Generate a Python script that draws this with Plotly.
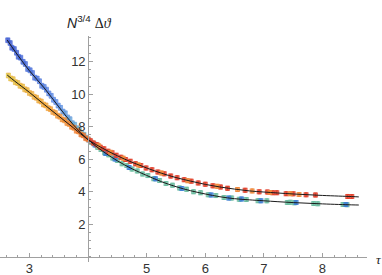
import plotly.graph_objects as go

# ---------------- data ----------------
# fit curves
fit_tau = [2.62, 2.75, 3.0, 3.25, 3.5, 3.75, 4.0, 4.25, 4.5, 4.75, 5.0, 5.25, 5.5,
           5.75, 6.0, 6.25, 6.5, 6.75, 7.0, 7.5, 8.0, 8.5, 8.62]
fit_steep = [13.33, 12.65, 11.44, 10.39, 9.22, 8.11, 7.2, 6.49, 5.90, 5.41, 5.0, 4.62,
             4.31, 4.06, 3.86, 3.69, 3.57, 3.50, 3.44, 3.33, 3.25, 3.19, 3.18]
fit_flat = [11.18, 10.80, 10.11, 9.37, 8.65, 7.93, 7.2, 6.67, 6.21, 5.81, 5.46, 5.14,
            4.87, 4.65, 4.45, 4.29, 4.16, 4.05, 3.98, 3.86, 3.77, 3.70, 3.68]

# blue points (steep branch, small tau)
blue_tau = [2.63, 2.67, 2.70, 2.74, 2.78, 2.81, 2.85, 2.89, 2.93, 2.97, 3.01, 3.05,
            3.09, 3.13, 3.17, 3.21, 3.25, 3.29, 3.33, 3.37, 3.41, 3.45, 3.49, 3.53,
            3.57, 3.61, 3.65, 3.69, 3.73, 3.77, 3.81, 3.85, 3.89, 3.93, 3.97, 4.01]
blue_val = [13.32, 13.15, 12.86, 12.78, 12.55, 12.30, 12.25, 11.99, 11.86, 11.55, 11.47, 11.31,
            11.02, 10.96, 10.80, 10.52, 10.45, 10.28, 10.05, 9.90, 9.66, 9.52, 9.30, 9.16,
            8.93, 8.82, 8.57, 8.46, 8.21, 8.12, 7.90, 7.82, 7.60, 7.50, 7.32, 7.20]

# yellow/orange points (flat branch, small tau)
gold_tau = [2.64, 2.68, 2.72, 2.76, 2.80, 2.84, 2.88, 2.92, 2.96, 3.00, 3.04, 3.08,
            3.12, 3.16, 3.20, 3.24, 3.28, 3.32, 3.36, 3.40, 3.44, 3.48, 3.52, 3.56,
            3.60, 3.64, 3.68, 3.72, 3.76, 3.80, 3.84, 3.88, 3.92, 3.96, 4.00]
gold_val = [11.15, 10.97, 10.92, 10.74, 10.69, 10.52, 10.47, 10.30, 10.25, 10.08, 10.02, 9.84,
            9.78, 9.61, 9.55, 9.37, 9.31, 9.14, 9.08, 8.91, 8.85, 8.68, 8.62, 8.45,
            8.39, 8.22, 8.16, 7.99, 7.93, 7.75, 7.70, 7.52, 7.46, 7.29, 7.22]

# teal points (steep branch, large tau)
teal_tau = [4.05, 4.10, 4.16, 4.22, 4.28, 4.35, 4.42, 4.50, 4.58, 4.66, 4.75, 4.84,
            4.93, 5.02, 5.12, 5.22, 5.33, 5.44, 5.56, 5.68, 5.80, 5.92, 6.05, 6.18,
            6.32, 6.45, 6.58, 6.70, 6.90, 7.05, 7.40, 7.45, 7.52, 7.85, 7.92, 8.35, 8.42]
teal_val = [7.04, 6.95, 6.73, 6.60, 6.40, 6.27, 6.07, 5.92, 5.72, 5.61, 5.39, 5.28,
            5.09, 4.99, 4.80, 4.69, 4.50, 4.40, 4.23, 4.15, 4.00, 3.94, 3.81, 3.76,
            3.64, 3.61, 3.53, 3.52, 3.45, 3.44, 3.34, 3.35, 3.32, 3.27, 3.26, 3.21, 3.20]

# blue points (steep branch, large tau)
blue2_tau = [4.12, 4.30, 4.46, 4.70, 5.15, 5.60, 6.10, 6.40, 6.62, 6.95, 7.55, 8.40]
blue2_val = [6.88, 6.35, 6.01, 5.49, 4.79, 4.20, 3.80, 3.61, 3.55, 3.44, 3.33, 3.21]

# red points (flat branch, large tau)
red_tau = [4.04, 4.09, 4.15, 4.21, 4.27, 4.34, 4.41, 4.48, 4.56, 4.64, 4.72, 4.81,
           4.90, 4.99, 5.09, 5.19, 5.30, 5.41, 5.52, 5.64, 5.76, 5.88, 6.00, 6.13,
           6.26, 6.38, 6.68, 6.92, 7.06, 7.15, 7.22, 7.38, 7.50, 7.72, 7.88, 8.43, 8.50]
red_val = [7.13, 7.00, 6.89, 6.74, 6.64, 6.49, 6.39, 6.24, 6.12, 5.98, 5.87, 5.72,
           5.61, 5.46, 5.35, 5.21, 5.10, 4.96, 4.86, 4.74, 4.65, 4.54, 4.46, 4.36,
           4.29, 4.21, 4.09, 3.99, 3.98, 3.94, 3.94, 3.88, 3.87, 3.81, 3.80, 3.71, 3.70]

# orange points (flat branch, large tau)
orange_tau = [4.18, 4.38, 4.60, 4.86, 5.25, 5.70, 6.20, 6.55, 6.80, 7.10, 7.45, 7.60]
orange_val = [6.82, 6.42, 6.06, 5.65, 5.15, 4.68, 4.33, 4.13, 4.05, 3.95, 3.88, 3.83]

x_ticks = [3, 5, 6, 7, 8]
y_ticks = [2, 4, 6, 8, 10, 12]

# ---------------- figure ----------------
W, H = 382, 275
fig = go.Figure()


def pts(t, v, colorscale, err_color, size=5):
    fig.add_trace(go.Scatter(
        x=t, y=v, mode="markers",
        marker=dict(symbol="square", size=size, color=t, colorscale=colorscale,
                    line=dict(width=0), opacity=0.8),
        error_y=dict(type="constant", value=0.15, thickness=1, width=2, color=err_color),
        hoverinfo="skip"))


def pts_plain(t, v, color, size=5):
    fig.add_trace(go.Scatter(
        x=t, y=v, mode="markers",
        marker=dict(symbol="square", size=size, color=color, line=dict(width=0), opacity=0.8),
        error_y=dict(type="constant", value=0.12, thickness=1, width=1.5, color=color),
        hoverinfo="skip"))


pts(blue_tau, blue_val, [[0, "#3653d0"], [0.6, "#5f8ee6"], [1, "#6ec1c8"]],
    "rgba(80,120,215,0.6)")
pts(gold_tau, gold_val, [[0, "#e2c443"], [0.5, "#f0a43a"], [1, "#f0702e"]],
    "rgba(240,150,60,0.6)")
pts_plain(teal_tau, teal_val, "#6cbda0")
pts_plain(blue2_tau, blue2_val, "#3f7fd4")
pts_plain(red_tau, red_val, "#e2402a")
pts_plain(orange_tau, orange_val, "#f08a3c")

fig.add_trace(go.Scatter(x=fit_tau, y=fit_steep, mode="lines",
                         line=dict(color="#1a1a1a", width=1, shape="spline"), hoverinfo="skip"))
fig.add_trace(go.Scatter(x=fit_tau, y=fit_flat, mode="lines",
                         line=dict(color="#1a1a1a", width=1, shape="spline"), hoverinfo="skip"))

# pixel geometry of the reference
px_per_x = 58.6
x_lo = 2.497
x_dom_hi = 367 / W
x_hi = x_lo + 367 / px_per_x

y0_px = 256.7          # pixel row of value 0
px_per_y = 16.25
y_top_px, y_bot_px = 35.5, 262.0
y_lo = (y0_px - y_bot_px) / px_per_y
y_hi = (y0_px - y_top_px) / px_per_y

axis_col = "#a0a0a0"
tick_font = dict(family="Liberation Sans, Arial, sans-serif", size=13, color="#333333")

fig.update_layout(
    width=W, height=H,
    margin=dict(l=0, r=0, t=0, b=0),
    paper_bgcolor="white", plot_bgcolor="white",
    showlegend=False,
    xaxis=dict(domain=[0, x_dom_hi], range=[x_lo, x_hi], anchor="free",
               position=(H - y0_px) / H,
               showgrid=False, zeroline=False, showline=True, linecolor=axis_col, linewidth=1,
               tickmode="array", tickvals=x_ticks, ticktext=[str(v) for v in x_ticks],
               ticks="inside", ticklen=4, tickcolor=axis_col, tickfont=tick_font,
               minor=dict(dtick=0.2, tick0=0, ticks="inside", ticklen=2, tickcolor=axis_col)),
    yaxis=dict(domain=[(H - y_bot_px) / H, (H - y_top_px) / H], range=[y_lo, y_hi],
               anchor="free", position=88.2 / W,
               showgrid=False, zeroline=False, showline=True, linecolor=axis_col, linewidth=1,
               tickmode="array", tickvals=y_ticks, ticktext=[str(v) for v in y_ticks],
               ticks="inside", ticklen=4, tickcolor=axis_col, tickfont=tick_font,
               minor=dict(dtick=0.5, tick0=0, ticks="inside", ticklen=2, tickcolor=axis_col)),
)

fig.add_annotation(
    x=89 / W, y=(H - 22) / H, xref="paper", yref="paper", xanchor="center", yanchor="middle",
    text="<i>N</i><sup>3/4</sup> <span style='font-family:Liberation Serif'>Δ<i>ϑ</i></span>",
    showarrow=False, font=dict(family="Liberation Sans, Arial, sans-serif", size=14, color="#222"))
fig.add_annotation(
    x=379 / W, y=(H - 259) / H, xref="paper", yref="paper", xanchor="center", yanchor="middle",
    text="<i>τ</i>", showarrow=False,
    font=dict(family="Liberation Serif, serif", size=13, color="#222"))

fig.write_html("out.html", config={"displayModeBar": False, "staticPlot": True},
               post_script="document.body.style.margin='0px';document.body.style.overflow='hidden';")
